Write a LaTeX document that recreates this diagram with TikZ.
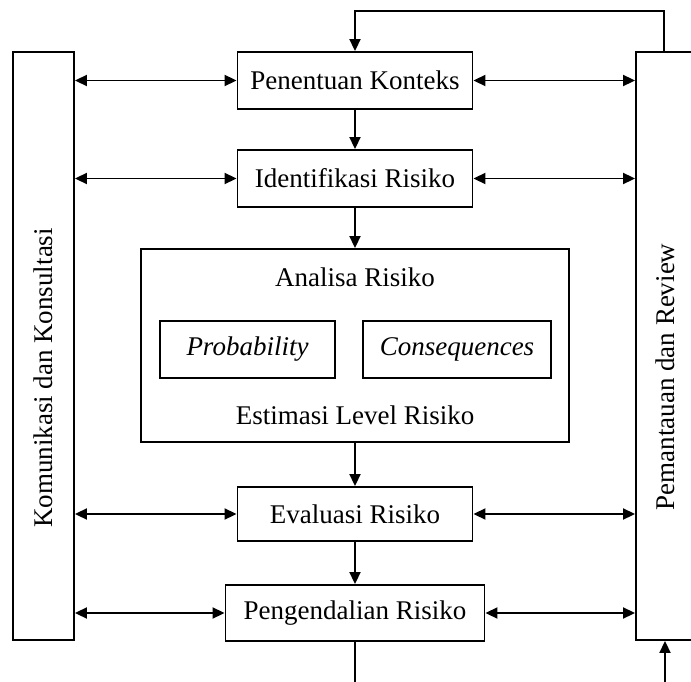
\documentclass[tikz,border=0pt]{standalone}
\usepackage{fontspec}
\setmainfont{Liberation Serif}
\usetikzlibrary{arrows.meta}

\tikzset{
  garis/.style={line width=1.9pt},
  panah/.style={garis,-{Triangle[length=12pt,width=11pt]}},
  duapanah/.style={garis,{Triangle[length=12pt,width=11pt]}-{Triangle[length=12pt,width=11pt]}},
  kotak/.style={draw,garis,rectangle,inner sep=0pt,minimum width=235pt,minimum height=57pt},
  sisi/.style={draw,garis,rectangle,inner sep=0pt,minimum width=61pt,minimum height=588pt},
  teks/.style={font=\fontsize{27}{32}\selectfont}
}

\begin{document}
\begin{tikzpicture}[x=1pt,y=-1pt,teks]
\clip (0,0) rectangle (691,682);
\fill[white] (0,0) rectangle (691,682);

\node[sisi] (kom) at (43.5,346) {};
\node[rotate=90] (komlbl) at (43,378) {Komunikasi dan Konsultasi};
\node[sisi] (pem) at (666.5,346) {};
\node[rotate=90] (pemlbl) at (665,377) {Pemantauan dan Review};

\node[kotak] (pen) at (355,80.5) {Penentuan Konteks};
\node[kotak] (ide) at (355,178.5) {Identifikasi Risiko};
\node[kotak,minimum width=428pt,minimum height=193pt] (ana) at (355,345.5) {};
\node (anattl) at (355,277) {Analisa Risiko};
\node[kotak,minimum width=175pt] (prob) at (247.5,349.5) {\textit{Probability}};
\node[kotak,minimum width=188pt] (cons) at (457,349.5) {\textit{Consequences}};
\node (est) at (355,415) {Estimasi Level Risiko};
\node[kotak,minimum height=54pt] (eva) at (355,514) {Evaluasi Risiko};
\node[kotak,minimum width=259pt,minimum height=56pt] (pgd) at (355,613) {Pengendalian Risiko};

\draw[panah] (pen) -- (ide);
\draw[panah] (ide) -- (ana);
\draw[panah] (ana) -- (eva);
\draw[panah] (eva) -- (pgd);

\foreach \n in {pen,ide,eva,pgd}{
  \draw[duapanah] (kom.east |- \n) -- (\n.west);
  \draw[duapanah] (\n.east) -- (pem.west |- \n);
}

\coordinate (atas) at (664,11);
\draw[panah] (pem.north -| atas) -- (atas) -- (atas -| pen) -- (pen.north);
\coordinate (bawahkiri) at (355,690);
\coordinate (bawahkanan) at (665,690);
\draw[garis] (pgd) -- (bawahkiri);
\draw[panah] (bawahkanan) -- (bawahkanan |- pem.south);
\end{tikzpicture}
\end{document}
